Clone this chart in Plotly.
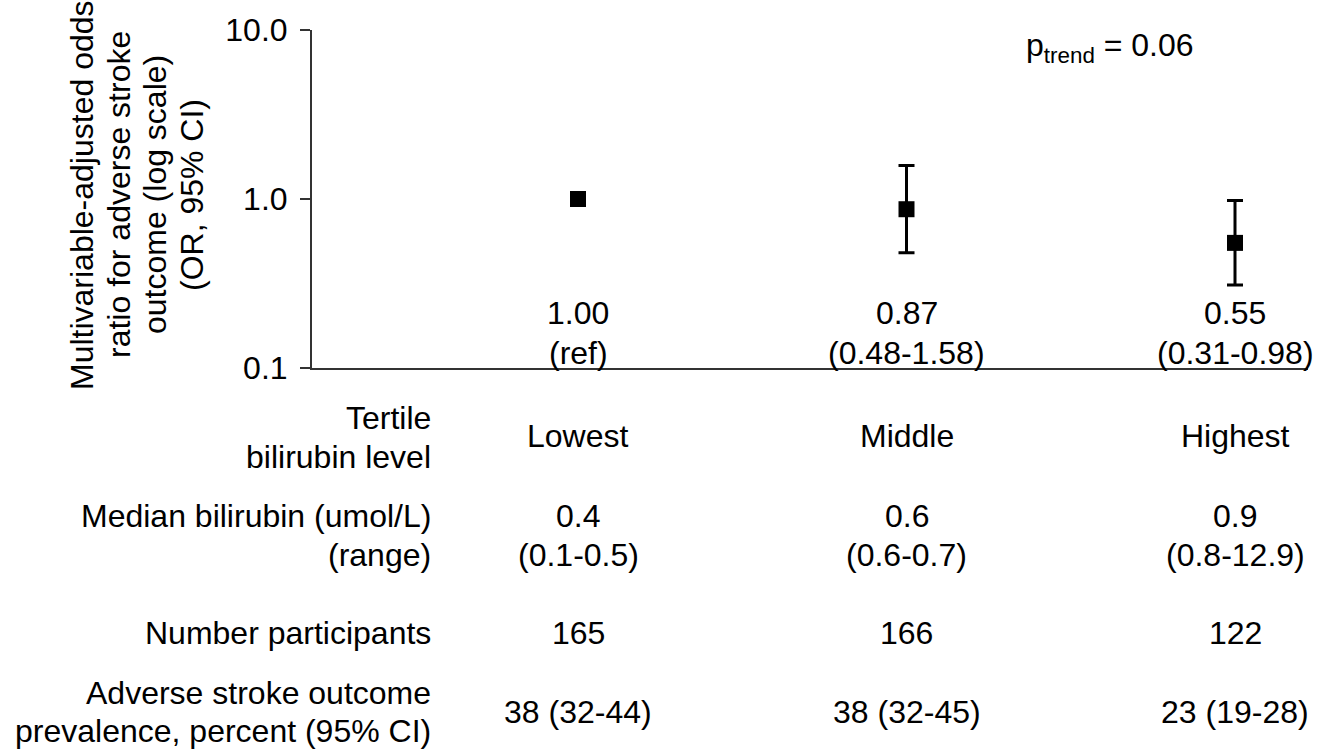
import plotly.graph_objects as go

# ---- data ----
tertiles = ["Lowest", "Middle", "Highest"]
odds_ratio = [1.00, 0.87, 0.55]
ci_low = [None, 0.48, 0.31]
ci_high = [None, 1.58, 0.98]
or_label = ["1.00", "0.87", "0.55"]
or_ci_label = ["(ref)", "(0.48-1.58)", "(0.31-0.98)"]
median_bili = ["0.4", "0.6", "0.9"]
range_bili = ["(0.1-0.5)", "(0.6-0.7)", "(0.8-12.9)"]
n_participants = ["165", "166", "122"]
prevalence = ["38 (32-44)", "38 (32-45)", "23 (19-28)"]
y_ticks = [0.1, 1.0, 10.0]
y_tick_text = ["0.1", "1.0", "10.0"]
y_title_lines = ["Multivariable-adjusted odds", "ratio for adverse stroke",
                 "outcome (log scale)", "(OR, 95% CI)"]
p_trend_text = "p<sub>trend</sub> = 0.06"

# ---- layout constants (page pixels; body margin removed below) ----
W, H = 1331, 751
PLOT_L, PLOT_R, PLOT_T, PLOT_B = 312, 1308, 30, 368
ML = PLOT_L
MT = PLOT_T
MR = W - PLOT_R
MB = H - PLOT_B
PLOT_H = PLOT_B - PLOT_T
PLOT_W = PLOT_R - PLOT_L
FONT = "Liberation Sans, Arial, sans-serif"
FS = 32
AXIS_COLOR = "#333333"


def py(pix):
    """page pixel y -> paper coordinate"""
    return (PLOT_B - pix) / PLOT_H


def px(pix):
    """page pixel x -> paper coordinate"""
    return (pix - PLOT_L) / PLOT_W


xpos = list(range(len(tertiles)))
err_plus = [None if h is None else h - o for o, h in zip(odds_ratio, ci_high)]
err_minus = [None if l is None else o - l for o, l in zip(odds_ratio, ci_low)]

fig = go.Figure()
fig.add_trace(go.Scatter(
    x=xpos, y=odds_ratio, mode="markers",
    marker=dict(symbol="square", size=16, color="black"),
    error_y=dict(type="data", symmetric=False, array=err_plus,
                 arrayminus=err_minus, color="black", thickness=3, width=8),
    showlegend=False, hoverinfo="skip",
))

ann = []


def txt(x, y, s, xanchor="center", xref="x", angle=0):
    ann.append(dict(x=x, y=py(y), xref=xref, yref="paper", text=s,
                    showarrow=False, xanchor=xanchor, yanchor="middle",
                    textangle=angle,
                    font=dict(family=FONT, size=FS, color="black")))


for i in xpos:
    txt(i, 313, or_label[i])
    txt(i, 353, or_ci_label[i])
    txt(i, 436, tertiles[i])
    txt(i, 516, median_bili[i])
    txt(i, 555, range_bili[i])
    txt(i, 633, n_participants[i])
    txt(i, 712, prevalence[i])

LX = px(433)
txt(LX, 418, "Tertile", "right", "paper")
txt(LX, 457, "bilirubin level", "right", "paper")
txt(LX, 516, "Median bilirubin (umol/L)", "right", "paper")
txt(LX, 555, "(range)", "right", "paper")
txt(LX, 633, "Number participants", "right", "paper")
txt(LX, 693, "Adverse stroke outcome", "right", "paper")
txt(LX, 731, "prevalence, percent (95% CI)", "right", "paper")

# p-trend
txt(px(1110), 47, p_trend_text, "center", "paper")

# y-axis title lines (rotated)
for xp, line in zip([82, 119, 155, 192], y_title_lines):
    txt(px(xp), 195, line, "center", "paper", angle=-90)

# x range so that categories land at page x = 578 and 1235
x0_pix, x2_pix = 578, 1235
unit = (x2_pix - x0_pix) / 2
x_range = [(PLOT_L - x0_pix) / unit, (PLOT_R - x0_pix) / unit]

fig.update_layout(
    width=W, height=H,
    margin=dict(l=ML, r=MR, t=MT, b=MB, pad=0, autoexpand=False),
    plot_bgcolor="white", paper_bgcolor="white",
    font=dict(family=FONT, size=FS, color="black"),
    annotations=ann,
    xaxis=dict(range=x_range, showline=True, linecolor=AXIS_COLOR,
               linewidth=2, showgrid=False, zeroline=False,
               showticklabels=False, ticks="", automargin=False),
    yaxis=dict(type="log", range=[-1, 1], tickvals=y_ticks,
               ticktext=y_tick_text, ticks="outside", ticklen=10,
               tickwidth=2, tickcolor=AXIS_COLOR, showline=True,
               linecolor=AXIS_COLOR, linewidth=2, showgrid=False,
               zeroline=False, ticklabelstandoff=6, automargin=False,
               tickfont=dict(family=FONT, size=FS, color="black")),
)

fig.write_html(
    "out.html",
    config={"displayModeBar": False},
    post_script="document.body.style.margin='0px';"
                "document.body.style.overflow='hidden';",
)
